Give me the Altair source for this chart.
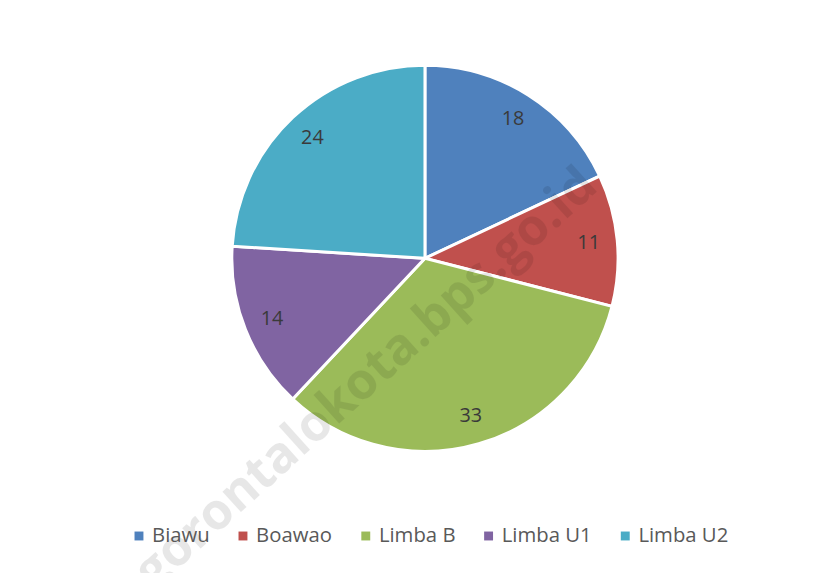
import altair as alt
import pandas as pd

categories = ["Biawu", "Boawao", "Limba B", "Limba U1", "Limba U2"]
values = [18, 11, 33, 14, 24]
colors = ["#4f81bd", "#c0504d", "#9bbb59", "#8064a2", "#4bacc6"]
watermark = ["gorontalokota.bps.go.id"]

df = pd.DataFrame({"cat": categories, "val": values, "idx": list(range(len(values)))})
wm = pd.DataFrame({"t": watermark})

CX, CY = 421, 250

base = alt.Chart(df).encode(
    theta=alt.Theta("val:Q", stack=True),
    order=alt.Order("idx:Q"),
    x=alt.value(CX),
    y=alt.value(CY),
)

pie = base.mark_arc(radius=195, stroke="white", strokeWidth=3).encode(
    color=alt.Color(
        "cat:N",
        scale=alt.Scale(domain=categories, range=colors),
        sort=categories,
        legend=alt.Legend(
            title=None,
            orient="none",
            direction="horizontal",
            legendX=122,
            legendY=520,
            symbolType="square",
            symbolSize=81,
            symbolStrokeWidth=0,
            labelFontSize=20.5,
            labelFont="Open Sans",
            labelColor="#595959",
            labelOffset=3,
            columnPadding=23,
        ),
    )
)

labels = base.mark_text(radius=166, fontSize=20, font="Open Sans", color="#3a3a3a").encode(
    text=alt.Text("val:Q")
)

wmark = alt.Chart(wm).mark_text(
    fontSize=51, font="Open Sans", fontWeight="bold", angle=318,
    color="#000000", opacity=0.09,
).encode(text="t:N", x=alt.value(362), y=alt.value(372))

chart = alt.layer(pie, labels, wmark).properties(
    width=832, height=565, padding=0, autosize=alt.AutoSizeParams(type="none")
).configure_view(stroke=None)

chart.save("out.html", embed_options={"renderer": "svg", "actions": False})
